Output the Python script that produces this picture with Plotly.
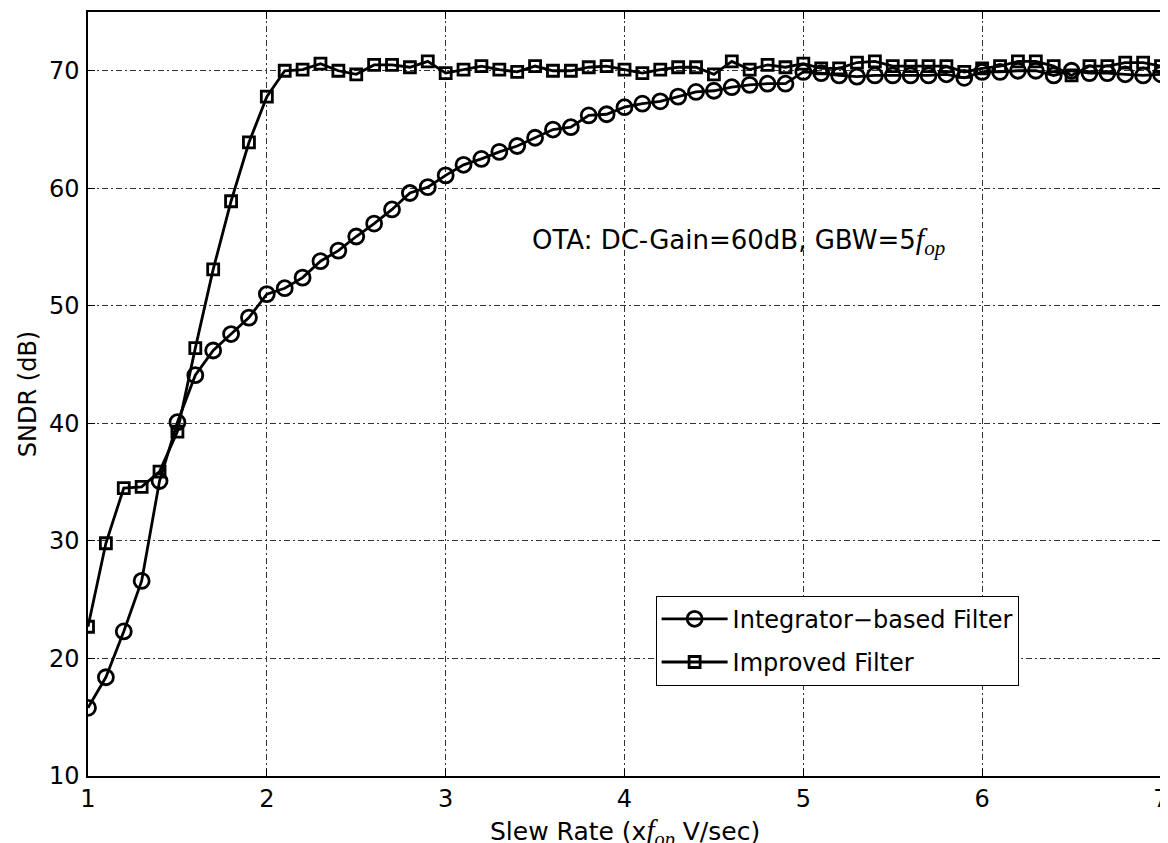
import plotly.graph_objects as go

x_vals = [round(1 + 0.1 * i, 1) for i in range(61)]

integrator_sndr = [
    15.8, 18.4, 22.3, 26.6, 35.1, 40.1, 44.1, 46.2, 47.6, 49.0,
    51.0, 51.5, 52.4, 53.8, 54.7, 55.9, 57.0, 58.2, 59.6, 60.1,
    61.1, 62.0, 62.5, 63.1, 63.6, 64.3, 65.0, 65.2, 66.2, 66.3,
    66.9, 67.2, 67.4, 67.8, 68.2, 68.3, 68.6, 68.8, 68.9, 68.9,
    69.9, 69.8, 69.6, 69.5, 69.6, 69.6, 69.6, 69.6, 69.7, 69.4,
    69.9, 69.9, 70.0, 70.0, 69.6, 70.0, 69.8, 69.8, 69.7, 69.6,
    69.7,
]

improved_sndr = [
    22.7, 29.8, 34.5, 34.6, 35.9, 39.3, 46.4, 53.1, 58.9, 63.9,
    67.8, 70.0, 70.1, 70.6, 70.0, 69.7, 70.5, 70.5, 70.3, 70.8,
    69.8, 70.1, 70.4, 70.1, 69.9, 70.4, 70.0, 70.0, 70.3, 70.4,
    70.1, 69.8, 70.1, 70.3, 70.3, 69.7, 70.8, 70.1, 70.5, 70.3,
    70.6, 70.2, 70.2, 70.7, 70.8, 70.4, 70.4, 70.4, 70.4, 69.9,
    70.2, 70.4, 70.8, 70.8, 70.4, 69.6, 70.4, 70.4, 70.7, 70.7,
    70.4,
]

series_names = ["Integrator\u2212based Filter", "Improved Filter"]
x_ticks = [1, 2, 3, 4, 5, 6, 7]
y_ticks = [10, 20, 30, 40, 50, 60, 70]

FONT = "DejaVu Sans, Liberation Sans, Arial, sans-serif"
SERIF = "Liberation Serif, Times New Roman, serif"

fig = go.Figure()
fig.add_trace(go.Scatter(
    x=x_vals, y=integrator_sndr, name=series_names[0],
    mode="lines+markers", legendgroup="a",
    line=dict(color="black", width=2.8),
    marker=dict(symbol="circle-open", size=15, color="black",
                line=dict(width=2.8, color="black")),
))
fig.add_trace(go.Scatter(
    x=x_vals, y=improved_sndr, name=series_names[1],
    mode="lines+markers", legendgroup="b",
    line=dict(color="black", width=2.8),
    marker=dict(symbol="square-open", size=11, color="black",
                line=dict(width=2.8, color="black")),
))


def fop(size):
    return ("<span style='font-family:" + SERIF + ";font-size:" + str(size) + "px'>"
            "<i>f</i><sub><i>op</i></sub></span>")


fig.add_annotation(
    x=3.47, y=55.5, xref="x", yref="y", xanchor="left", yanchor="middle",
    text="OTA: DC-Gain=60dB, GBW=5" + fop(30),
    showarrow=False, font=dict(family=FONT, size=26, color="black"),
)

fig.add_annotation(
    x=0.5, y=-0.047, xref="paper", yref="paper", xanchor="center", yanchor="top",
    text="Slew Rate (x" + fop(29) + " V/sec)",
    showarrow=False, font=dict(family=FONT, size=25, color="black"),
)

axis_common = dict(
    showline=True, linecolor="black", linewidth=1.5, mirror="ticks",
    ticks="inside", ticklen=7, tickwidth=1, tickcolor="black",
    showgrid=True, gridcolor="#333333", gridwidth=1, griddash="6px,3px,2px,3px",
    zeroline=False, tickfont=dict(family=FONT, size=24, color="black"),
    automargin=False, ticklabeloverflow="allow",
)

fig.update_xaxes(range=[1, 7], tickvals=x_ticks, **axis_common)
fig.update_yaxes(
    range=[10, 75], tickvals=y_ticks, ticklabelstandoff=2,
    title=dict(text="SNDR (dB)", font=dict(family=FONT, size=24, color="black"), standoff=6),
    **axis_common,
)

# the page adds an 8px body margin, so the plot area is placed 8px up/left
fig.update_layout(
    width=1168, height=843,
    margin=dict(l=80, r=15, t=4, b=75),
    plot_bgcolor="white", paper_bgcolor="white",
    font=dict(family=FONT, color="black"),
    legend=dict(
        x=0.529, y=0.236, xanchor="left", yanchor="top",
        bgcolor="white", bordercolor="black", borderwidth=1,
        font=dict(family=FONT, size=24, color="black"),
        itemwidth=66, tracegroupgap=9, traceorder="grouped",
    ),
    showlegend=True,
)

fig.write_html("out.html")
